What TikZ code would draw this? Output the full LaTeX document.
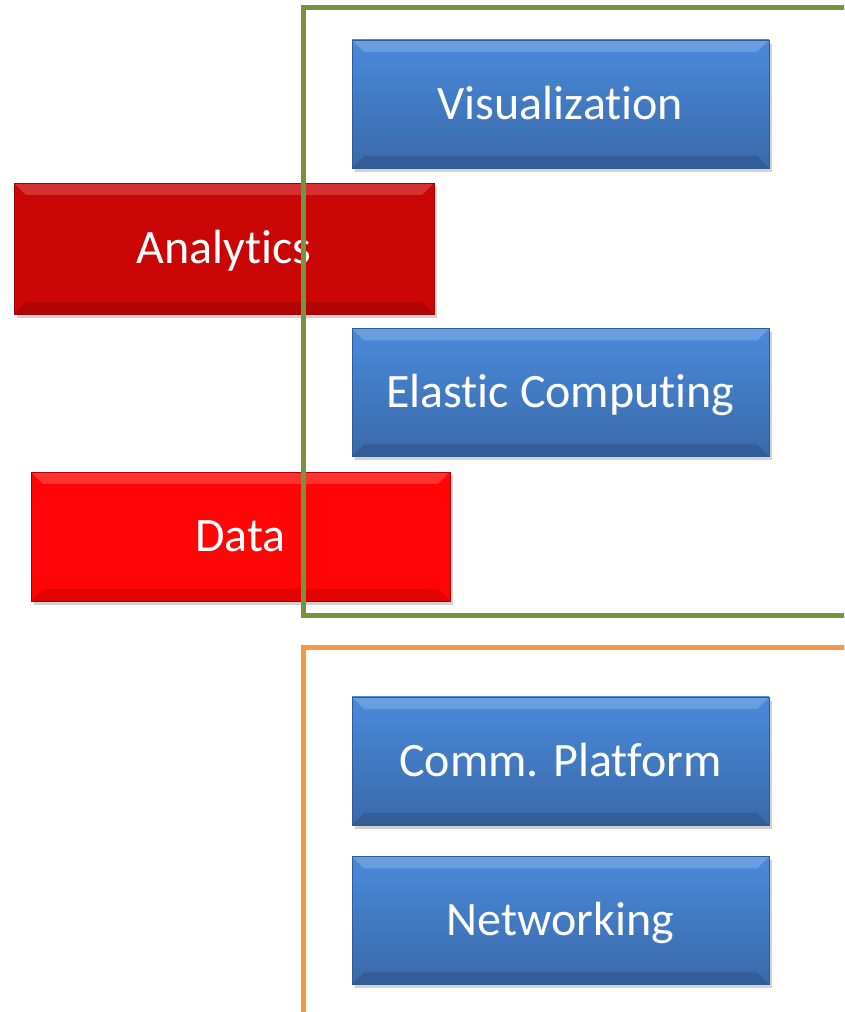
\documentclass[tikz,border=0pt]{standalone}
\usepackage{fontspec}
\setmainfont[Ligatures={NoCommon}]{Carlito}
\usetikzlibrary{shadows,calc}
\definecolor{bluetop}{HTML}{4A8ADA}
\definecolor{bluebot}{HTML}{3A69AA}
\definecolor{blueedge}{HTML}{2F5A94}
\definecolor{redA}{HTML}{CB0606}
\definecolor{redAedge}{HTML}{A00404}
\definecolor{redD}{HTML}{FF0505}
\definecolor{redDedge}{HTML}{B00000}
\definecolor{greenframe}{HTML}{77933C}
\definecolor{orangeframe}{HTML}{F79646}
\tikzset{
  bevelbox/.style={rectangle, minimum width=417pt, minimum height=128pt, inner sep=0pt,
    text height=31pt, text depth=-2pt,
    text=white, font=\fontsize{48pt}{56pt}\selectfont,
    drop shadow={shadow xshift=3pt, shadow yshift=-4pt, opacity=0.35, fill=gray},
    path picture={
      \fill[white,opacity=0.18] (path picture bounding box.north west) -- (path picture bounding box.north east)
        -- ($(path picture bounding box.north east)+(-12pt,-12pt)$) -- ($(path picture bounding box.north west)+(12pt,-12pt)$) -- cycle;
      \fill[black,opacity=0.12] (path picture bounding box.south west) -- (path picture bounding box.south east)
        -- ($(path picture bounding box.south east)+(-12pt,12pt)$) -- ($(path picture bounding box.south west)+(12pt,12pt)$) -- cycle;
    }},
  bluebox/.style={bevelbox, top color=bluetop, bottom color=bluebot, draw=blueedge, line width=0.8pt},
  analyticsbox/.style={bevelbox, minimum width=420pt, minimum height=131pt, fill=redA, draw=redAedge, line width=0.8pt},
  databox/.style={bevelbox, minimum width=419pt, minimum height=129pt, fill=redD, draw=redDedge, line width=0.8pt},
  frameline/.style={line width=5pt, line join=miter}
}
\begin{document}
\begin{tikzpicture}[x=1pt,y=1pt]
\useasboundingbox (0,0) rectangle (844,1012);
\clip (0,0) rectangle (844,1012);
\fill[white] (0,0) rectangle (844,1012);
% red boxes (behind the green frame)
\node[analyticsbox] (analytics) at (224,763.5) {Analytics};
\node[databox] (data) at (240.5,475.5) {Data};
% blue boxes
\node[bluebox] (vis) at (560.5,908) {Visualization};
\node[bluebox] (elastic) at (560.5,619.5) {Elastic Computing};
\node[bluebox] (comm) at (560.5,251) {Comm. Platform};
\node[bluebox] (net) at (560.5,91.5) {Networking};
% frames
\coordinate (gtr) at (860,1004);
\coordinate (gtl) at (303,1004);
\coordinate (gbl) at (303,396);
\coordinate (gbr) at (860,396);
\draw[frameline, draw=greenframe] (gtr) -- (gtl) -- (gbl) -- (gbr);
\coordinate (obl) at (303,-10);
\coordinate (otl) at (303,364);
\coordinate (otr) at (860,364);
\draw[frameline, draw=orangeframe] (obl) -- (otl) -- (otr);
\end{tikzpicture}
\end{document}
